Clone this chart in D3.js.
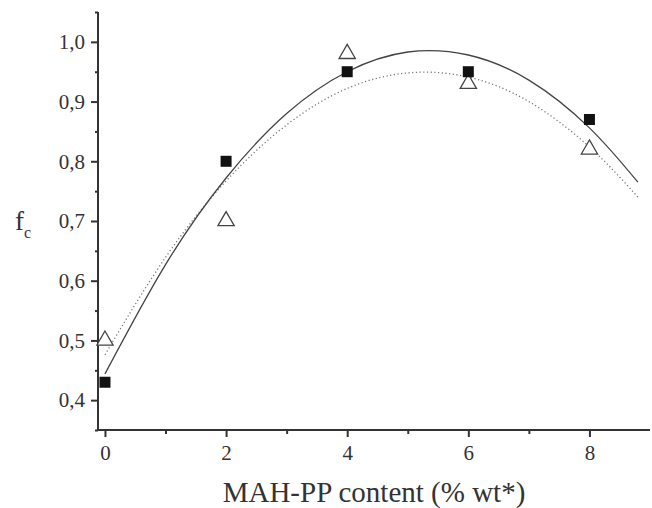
<!DOCTYPE html>
<html><head><meta charset="utf-8">
<script src="https://cdn.jsdelivr.net/npm/d3@7"></script>
<style>body{margin:0;background:#fff}svg{display:block}</style>
</head><body>
<script>
// Data
const xCats = [0, 2, 4, 6, 8];
const squares = [0.43, 0.80, 0.95, 0.95, 0.87];
const triangles = [0.50, 0.70, 0.98, 0.93, 0.82];
const fitX = [0, 1, 2, 3, 4, 5, 6, 7, 8, 8.8];
const fitSolid = [0.444, 0.627, 0.772, 0.880, 0.950, 0.983, 0.978, 0.936, 0.856, 0.765];
const fitDotted = [0.476, 0.639, 0.767, 0.861, 0.922, 0.948, 0.941, 0.900, 0.824, 0.740];
const xTicks = [0, 2, 4, 6, 8];
const xMinor = [1, 3, 5, 7];
const yTicks = [0.4, 0.5, 0.6, 0.7, 0.8, 0.9, 1.0];
const yMinor = [0.35, 0.45, 0.55, 0.65, 0.75, 0.85, 0.95, 1.05];

const W = 652, H = 508;
const FONT = "'Liberation Serif', 'Times New Roman', serif";
const svg = d3.select("body").append("svg").attr("width", W).attr("height", H);
const x = d3.scaleLinear().domain([-0.115, 9.0]).range([98, 650]);
const y = d3.scaleLinear().domain([0.35, 1.05]).range([430, 12]);
const axisColor = "#333";
const fmt = d => d3.format(".1f")(d).replace(".", ",");

// X axis
const gx = svg.append("g").attr("transform", `translate(0,${y(0.35)})`);
gx.call(d3.axisBottom(x).tickValues(xTicks).tickSize(7).tickPadding(8).tickFormat(d3.format("d")));
gx.append("g").call(d3.axisBottom(x).tickValues(xMinor).tickSize(4).tickFormat(""));
gx.selectAll(".domain").remove();
gx.append("line").attr("x1", x.range()[0]).attr("x2", x.range()[1]).attr("stroke", axisColor).attr("stroke-width", 2);
gx.selectAll(".tick line").attr("stroke", axisColor).attr("stroke-width", 2);
gx.selectAll(".tick text").style("font-family", FONT).style("font-size", "21px").attr("fill", "#333");

// Y axis
const gy = svg.append("g").attr("transform", `translate(${x(-0.115)},0)`);
gy.call(d3.axisLeft(y).tickValues(yTicks).tickSize(7).tickPadding(6).tickFormat(fmt));
gy.append("g").call(d3.axisLeft(y).tickValues(yMinor).tickSize(3).tickFormat(""));
gy.selectAll(".domain").remove();
gy.append("line").attr("y1", y.range()[0]).attr("y2", y.range()[1]).attr("stroke", axisColor).attr("stroke-width", 2);
gy.selectAll(".tick line").attr("stroke", axisColor).attr("stroke-width", 2);
gy.selectAll(".tick text").style("font-family", FONT).style("font-size", "21px").attr("fill", "#333");

// Fit curves
const line = (vals) => d3.line().x((d, i) => x(fitX[i])).y(d => y(d)).curve(d3.curveNatural)(vals);
svg.append("path").attr("d", line(fitDotted)).attr("fill", "none").attr("stroke", "#777").attr("stroke-width", 1.3).attr("stroke-dasharray", "1.2,2.5");
svg.append("path").attr("d", line(fitSolid)).attr("fill", "none").attr("stroke", "#444").attr("stroke-width", 1.3);

// Triangles (open)
const tri = d3.symbol().type(d3.symbolTriangle).size(115);
svg.selectAll(".tri").data(triangles).enter().append("path")
  .attr("d", tri).attr("transform", (d, i) => `translate(${x(xCats[i])},${y(d)})`)
  .attr("fill", "#fff").attr("stroke", "#444").attr("stroke-width", 1.3);

// Squares (filled)
svg.selectAll(".sq").data(squares).enter().append("rect")
  .attr("x", (d, i) => x(xCats[i]) - 5.5).attr("y", d => y(d) - 5.5)
  .attr("width", 11).attr("height", 11).attr("fill", "#111");

// Axis titles
svg.append("text").attr("x", 374).attr("y", 502).attr("text-anchor", "middle")
  .style("font-family", FONT).style("font-size", "29px").attr("fill", "#333")
  .text("MAH-PP content (% wt*)");
const ft = svg.append("text").attr("x", 15).attr("y", 230)
  .style("font-family", FONT).style("font-size", "27px").attr("fill", "#333");
ft.append("tspan").text("f");
ft.append("tspan").style("font-size", "16px").attr("dy", 8).text("c");
</script>
</body></html>
